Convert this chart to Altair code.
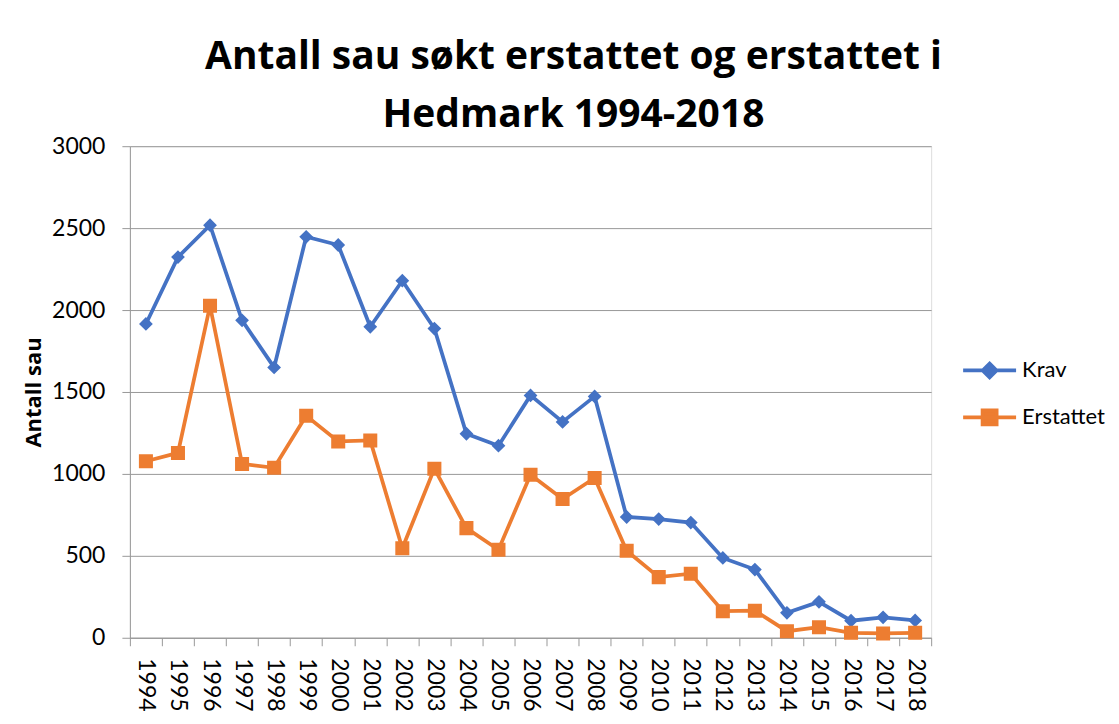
import altair as alt
import pandas as pd

years = [str(y) for y in range(1994, 2019)]
krav = [1915, 2323, 2518, 1937, 1650, 2447, 2397, 1898, 2179, 1887, 1245, 1172,
        1479, 1317, 1473, 737, 724, 703, 487, 416, 152, 219, 104, 125, 106]
erstattet = [1077, 1128, 2026, 1061, 1037, 1355, 1198, 1204, 546, 1032, 669, 537,
             995, 847, 975, 531, 370, 391, 162, 165, 40, 64, 30, 26, 30]
series = ["Krav", "Erstattet"]
colors = ["#4472C4", "#ED7D31"]

rows = []
for name, vals in zip(series, [krav, erstattet]):
    for y, v in zip(years, vals):
        rows.append({"year": y, "series": name, "value": v})
df = pd.DataFrame(rows)

diamond = "M-1,0L1,0M0,-0.26L0.26,0L0,0.26L-0.26,0Z"
square = "M-1,0L1,0M-0.265,-0.265L0.265,-0.265L0.265,0.265L-0.265,0.265Z"

FONT = "Lato"
BOLD = "Open Sans"

x_enc = alt.X("year:O", title=None,
              scale=alt.Scale(type="band", paddingInner=0, paddingOuter=0),
              axis=alt.Axis(labelAngle=90, labelAlign="left", labelBaseline="middle",
                            labelFontSize=23, labelFont=FONT, labelColor="#000000",
                            labelPadding=12, tickSize=8, tickBand="extent",
                            tickColor="#999999", domainColor="#999999", grid=False))
y_enc = alt.Y("value:Q", title="Antall sau",
              scale=alt.Scale(domain=[0, 3000], nice=False),
              axis=alt.Axis(values=[0, 500, 1000, 1500, 2000, 2500, 3000], format="d",
                            labelFontSize=23, labelFont=FONT, labelColor="#000000",
                            labelPadding=17, tickSize=8, tickColor="#999999",
                            domainColor="#999999", gridColor="#999999", gridWidth=1,
                            titleFont=BOLD, titleFontSize=22, titleFontWeight="bold",
                            titleColor="#000000", titleAngle=270, titleX=-96, titleY=246,
                            titleAlign="center", titleBaseline="middle"))

color_scale = alt.Scale(domain=series, range=colors)

legend = alt.Legend(title=None, orient="none", legendX=832, legendY=196,
                    labelFont=FONT, labelFontSize=22, labelColor="#000000",
                    symbolSize=2809, symbolStrokeWidth=3.75, symbolOpacity=1,
                    padding=0, labelOffset=4, rowPadding=4)

base = alt.Chart(df)

lines = base.mark_line(strokeWidth=3.75).encode(
    x=x_enc, y=y_enc,
    color=alt.Color("series:N", scale=color_scale, legend=legend),
    detail="series:N",
)

points = base.mark_point(filled=False, size=2809, strokeWidth=0, opacity=1).encode(
    x=x_enc, y=y_enc,
    color=alt.Color("series:N", scale=color_scale, legend=legend),
    fill=alt.Fill("series:N", scale=color_scale, legend=legend),
    shape=alt.Shape("series:N", scale=alt.Scale(domain=series, range=[diamond, square]),
                    legend=legend),
)

chart = alt.layer(lines, points).properties(
    width=802, height=492,
    padding={"left": 122, "top": 138, "right": 180, "bottom": 80},
    autosize=alt.AutoSizeParams(type="none"),
    title=alt.Title(["Antall sau søkt erstattet og erstattet i", "Hedmark 1994-2018"],
                    font=BOLD, fontSize=39, fontWeight="bold", color="#000000",
                    anchor="middle", dx=43, offset=0, lineHeight=58),
).configure_view(stroke=None).configure(background="white")

chart.save("out.html", embed_options={"renderer": "svg", "actions": False})
